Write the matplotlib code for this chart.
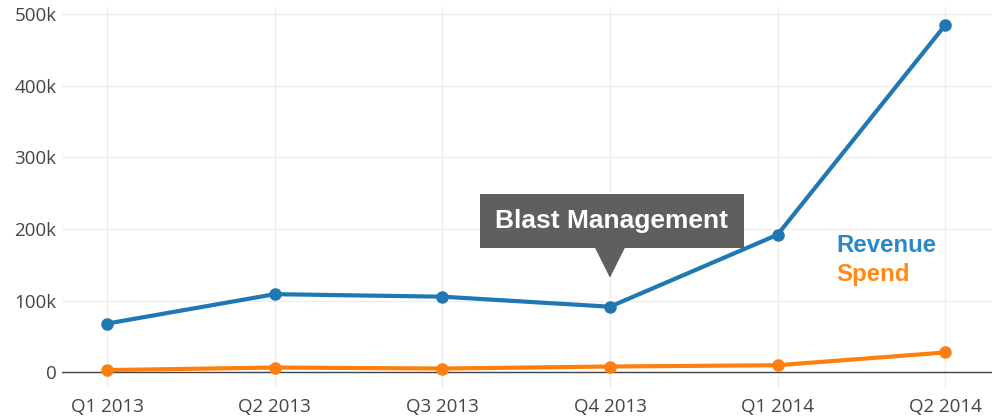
import matplotlib
matplotlib.use("Agg")
import matplotlib.pyplot as plt
import matplotlib.transforms as mtransforms
from matplotlib.patches import Polygon, Rectangle
from matplotlib.ticker import FuncFormatter

quarters = ["Q1 2013", "Q2 2013", "Q3 2013", "Q4 2013", "Q1 2014", "Q2 2014"]
revenue = [68000, 109000, 105500, 91500, 192000, 484500]
spend = [3000, 6600, 5200, 8000, 9800, 27600]
annotation_label = "Blast Management"
annotation_index = 3

rev_color = "#1f77b4"
spend_color = "#ff7f0e"

fig = plt.figure(figsize=(10, 4.17), dpi=100)
ax = fig.add_axes([0.062, 29 / 417, 0.930, (388 - 7) / 417])

x = list(range(len(quarters)))
ax.set_xlim(-0.27, 5.28)
ax.set_ylim(-22000, 510000)

ax.plot(x, revenue, color=rev_color, lw=3, marker="o", ms=8, zorder=3, solid_capstyle="round")
ax.plot(x, spend, color=spend_color, lw=3, marker="o", ms=8, zorder=3, solid_capstyle="round")

ax.set_xticks(x)
ax.set_xticklabels(quarters)
ax.set_yticks([0, 100000, 200000, 300000, 400000, 500000])
ax.yaxis.set_major_formatter(FuncFormatter(lambda v, p: "0" if v == 0 else f"{int(v/1000)}k"))
ax.grid(True, color="#eeeeee", lw=1)
ax.set_axisbelow(True)
ax.axhline(0, color="#444444", lw=1, zorder=2)
for s in ax.spines.values():
    s.set_visible(False)
ax.tick_params(length=0, labelsize=13.5, labelcolor="#444444")
ax.tick_params(axis="x", pad=7)
ax.tick_params(axis="y", pad=4)
for lab in ax.get_xticklabels() + ax.get_yticklabels():
    lab.set_family("Open Sans")

# annotation callout
anchor = mtransforms.ScaledTranslation(annotation_index, revenue[annotation_index], ax.transData)
trans = mtransforms.Affine2D() + anchor
tri = Polygon([[-15, 59], [15, 59], [0, 29]], closed=True, fc="#5f5f5f", ec="none", transform=trans, zorder=5)
box = Rectangle((-130, 59), 264, 54, fc="#5f5f5f", ec="none", transform=trans, zorder=5)
ax.add_patch(tri)
ax.add_patch(box)
ax.annotate(annotation_label, xy=(annotation_index, revenue[annotation_index]),
            xytext=(2, 86), textcoords="offset pixels", ha="center", va="center",
            color="white", fontsize=19, fontweight="bold", family="Liberation Sans", zorder=6)

# legend as colored text
fig.text(836 / 1000, 1 - 245 / 417, "Revenue", color="#2a88c6", fontsize=17.3, fontweight="bold",
         family="Liberation Sans", ha="left", va="center")
fig.text(836 / 1000, 1 - 274 / 417, "Spend", color="#ff8a17", fontsize=17.3, fontweight="bold",
         family="Liberation Sans", ha="left", va="center")

fig.savefig("out.png", dpi=100)
